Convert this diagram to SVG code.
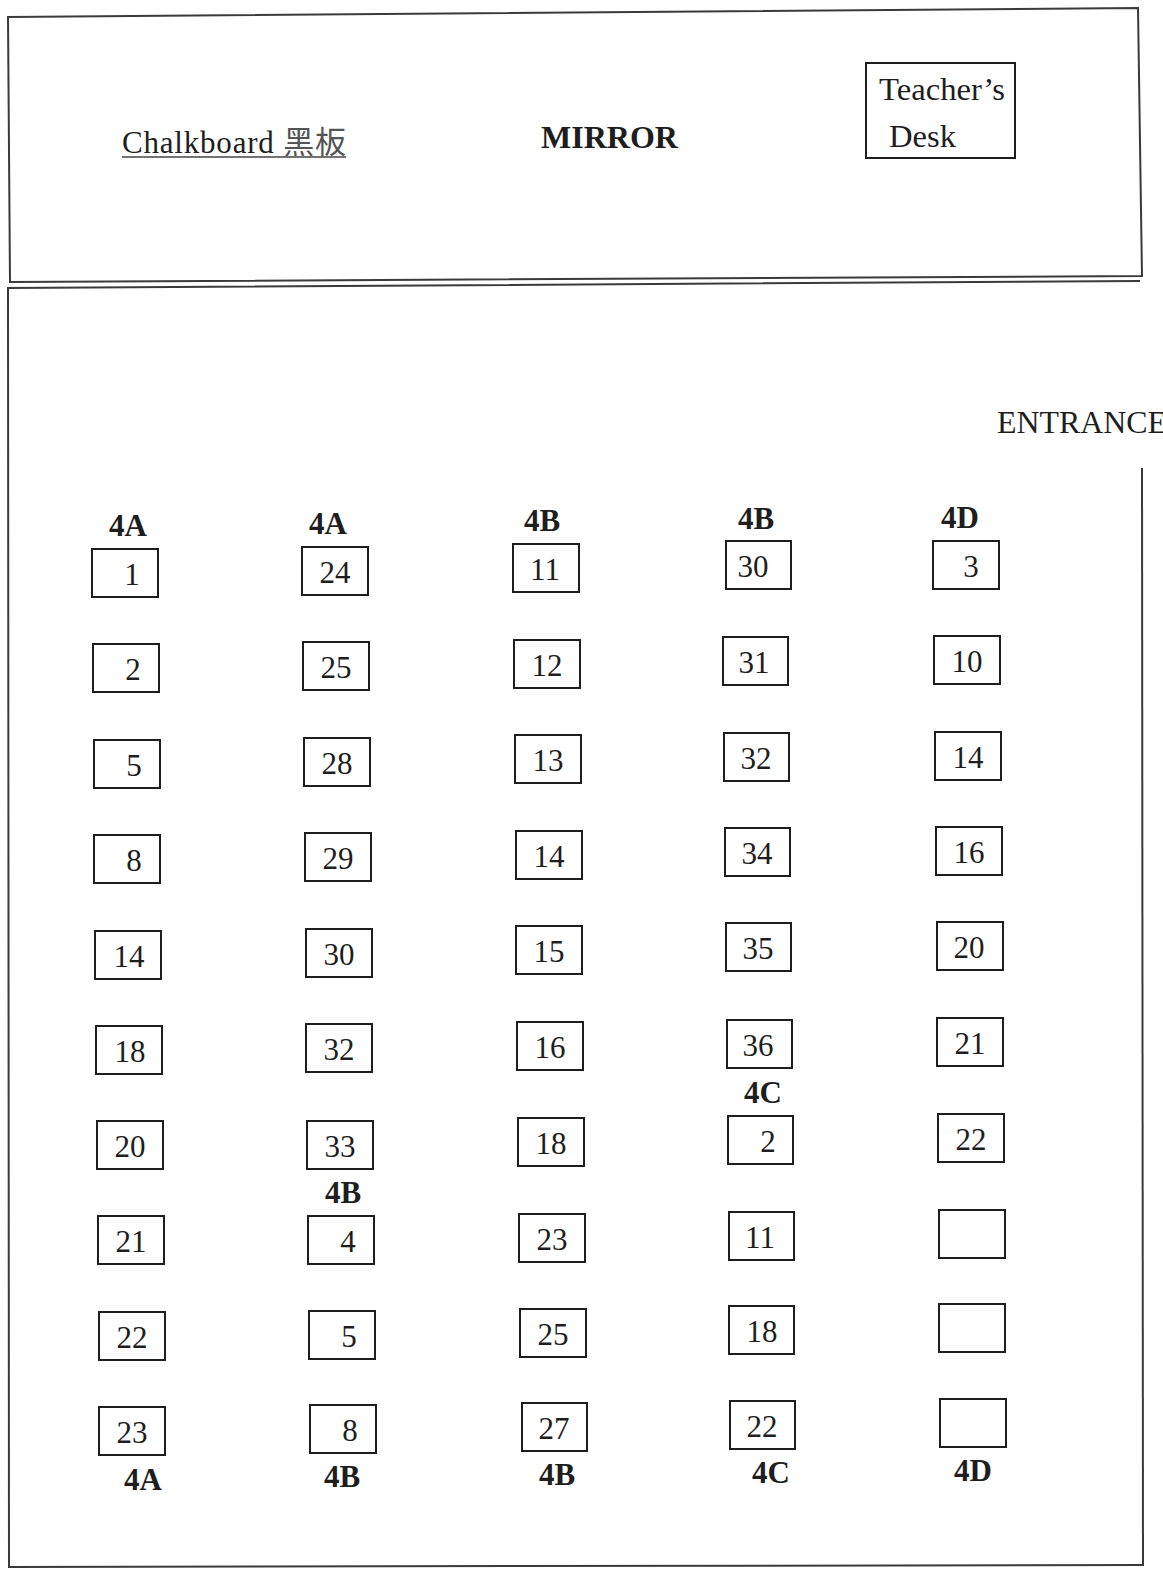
<svg xmlns="http://www.w3.org/2000/svg" width="1163" height="1571" viewBox="0 0 1163 1571" font-family="'Liberation Serif', 'Times New Roman', Times, serif">
<style>
  .wall{fill:none;stroke:#3a3a3a;stroke-width:2}
  .seat{fill:#fff;stroke:#1e1e1e;stroke-width:2}
  .num{font-family:'Liberation Serif', Times, serif;font-size:31px;fill:#1e1e1e;text-anchor:middle}
  .lbl{font-family:'Liberation Serif', Times, serif;font-size:31px;font-weight:bold;fill:#1e1e1e;text-anchor:middle}
  .txt{font-family:'Liberation Serif', Times, serif;font-size:31px;fill:#1e1e1e}
</style>
<rect width="1163" height="1571" fill="#fff"/>
<g id="front-area">
  <polygon class="wall" points="8,17 1138,8 1142,276 10,282"/>
  <text class="txt" x="122" y="153" textLength="224" lengthAdjust="spacing">Chalkboard <tspan font-family="'Noto Sans CJK TC', 'Noto Sans CJK SC', sans-serif" font-size="31" fill="#555">黑板</tspan></text>
  <line x1="122" y1="157" x2="346" y2="157" stroke="#444" stroke-width="1.5"/>
  <text class="txt" x="541" y="148" font-weight="bold" font-size="32" textLength="137" lengthAdjust="spacingAndGlyphs">MIRROR</text>
</g>
<g id="teachers-desk">
  <rect class="seat" x="866" y="63" width="149" height="95"/>
  <text class="txt" x="879" y="100" font-size="32" textLength="126" lengthAdjust="spacingAndGlyphs">Teacher’s</text>
  <text class="txt" x="889" y="147" font-size="32" textLength="67" lengthAdjust="spacingAndGlyphs">Desk</text>
</g>
<g id="room">
  <polyline class="wall" points="1140,281 8,288 9,1568"/>
  <line class="wall" x1="1142" y1="468" x2="1143" y2="1566"/>
  <line class="wall" x1="9" y1="1567" x2="1143" y2="1565"/>
  <text class="txt" x="997" y="433" textLength="170" lengthAdjust="spacingAndGlyphs">ENTRANCE</text>
</g>
<g id="labels">
  <text class="lbl" x="128" y="536">4A</text>
  <text class="lbl" x="328" y="534">4A</text>
  <text class="lbl" x="542" y="531">4B</text>
  <text class="lbl" x="756" y="529">4B</text>
  <text class="lbl" x="960" y="528">4D</text>
  <text class="lbl" x="343" y="1203">4B</text>
  <text class="lbl" x="763" y="1103">4C</text>
  <text class="lbl" x="143" y="1490">4A</text>
  <text class="lbl" x="342" y="1487">4B</text>
  <text class="lbl" x="557" y="1485">4B</text>
  <text class="lbl" x="771" y="1483">4C</text>
  <text class="lbl" x="973" y="1481">4D</text>
</g>
<g id="col1">
  <g id="s1-1"><rect class="seat" x="92" y="549" width="66" height="48"/><text class="num" x="132" y="585">1</text></g>
  <g id="s1-2"><rect class="seat" x="93" y="644" width="66" height="48"/><text class="num" x="133" y="680">2</text></g>
  <g id="s1-3"><rect class="seat" x="94" y="740" width="66" height="48"/><text class="num" x="134" y="776">5</text></g>
  <g id="s1-4"><rect class="seat" x="94" y="835" width="66" height="48"/><text class="num" x="134" y="871">8</text></g>
  <g id="s1-5"><rect class="seat" x="95" y="931" width="66" height="48"/><text class="num" x="129" y="967">14</text></g>
  <g id="s1-6"><rect class="seat" x="96" y="1026" width="66" height="48"/><text class="num" x="130" y="1062">18</text></g>
  <g id="s1-7"><rect class="seat" x="97" y="1121" width="66" height="48"/><text class="num" x="130" y="1157">20</text></g>
  <g id="s1-8"><rect class="seat" x="98" y="1216" width="66" height="48"/><text class="num" x="131" y="1252">21</text></g>
  <g id="s1-9"><rect class="seat" x="99" y="1312" width="66" height="48"/><text class="num" x="132" y="1348">22</text></g>
  <g id="s1-10"><rect class="seat" x="99" y="1407" width="66" height="48"/><text class="num" x="132" y="1443">23</text></g>
</g>
<g id="col2">
  <g id="s2-1"><rect class="seat" x="302" y="547" width="66" height="48"/><text class="num" x="335" y="583">24</text></g>
  <g id="s2-2"><rect class="seat" x="303" y="642" width="66" height="48"/><text class="num" x="336" y="678">25</text></g>
  <g id="s2-3"><rect class="seat" x="304" y="738" width="66" height="48"/><text class="num" x="337" y="774">28</text></g>
  <g id="s2-4"><rect class="seat" x="305" y="833" width="66" height="48"/><text class="num" x="338" y="869">29</text></g>
  <g id="s2-5"><rect class="seat" x="306" y="929" width="66" height="48"/><text class="num" x="339" y="965">30</text></g>
  <g id="s2-6"><rect class="seat" x="306" y="1024" width="66" height="48"/><text class="num" x="339" y="1060">32</text></g>
  <g id="s2-7"><rect class="seat" x="307" y="1121" width="66" height="48"/><text class="num" x="340" y="1157">33</text></g>
  <g id="s2-8"><rect class="seat" x="308" y="1216" width="66" height="48"/><text class="num" x="348" y="1252">4</text></g>
  <g id="s2-9"><rect class="seat" x="309" y="1311" width="66" height="48"/><text class="num" x="349" y="1347">5</text></g>
  <g id="s2-10"><rect class="seat" x="310" y="1405" width="66" height="48"/><text class="num" x="350" y="1441">8</text></g>
</g>
<g id="col3">
  <g id="s3-1"><rect class="seat" x="513" y="544" width="66" height="48"/><text class="num" x="545" y="580">11</text></g>
  <g id="s3-2"><rect class="seat" x="514" y="640" width="66" height="48"/><text class="num" x="547" y="676">12</text></g>
  <g id="s3-3"><rect class="seat" x="515" y="735" width="66" height="48"/><text class="num" x="548" y="771">13</text></g>
  <g id="s3-4"><rect class="seat" x="516" y="831" width="66" height="48"/><text class="num" x="549" y="867">14</text></g>
  <g id="s3-5"><rect class="seat" x="516" y="926" width="66" height="48"/><text class="num" x="549" y="962">15</text></g>
  <g id="s3-6"><rect class="seat" x="517" y="1022" width="66" height="48"/><text class="num" x="550" y="1058">16</text></g>
  <g id="s3-7"><rect class="seat" x="518" y="1118" width="66" height="48"/><text class="num" x="551" y="1154">18</text></g>
  <g id="s3-8"><rect class="seat" x="519" y="1214" width="66" height="48"/><text class="num" x="552" y="1250">23</text></g>
  <g id="s3-9"><rect class="seat" x="520" y="1309" width="66" height="48"/><text class="num" x="553" y="1345">25</text></g>
  <g id="s3-10"><rect class="seat" x="522" y="1403" width="65" height="48"/><text class="num" x="554" y="1439">27</text></g>
</g>
<g id="col4">
  <g id="s4-1"><rect class="seat" x="726" y="541" width="65" height="48"/><text class="num" x="753" y="577">30</text></g>
  <g id="s4-2"><rect class="seat" x="723" y="637" width="65" height="48"/><text class="num" x="754" y="673">31</text></g>
  <g id="s4-3"><rect class="seat" x="724" y="733" width="65" height="48"/><text class="num" x="756" y="769">32</text></g>
  <g id="s4-4"><rect class="seat" x="725" y="828" width="65" height="48"/><text class="num" x="757" y="864">34</text></g>
  <g id="s4-5"><rect class="seat" x="726" y="923" width="65" height="48"/><text class="num" x="758" y="959">35</text></g>
  <g id="s4-6"><rect class="seat" x="727" y="1020" width="65" height="48"/><text class="num" x="758" y="1056">36</text></g>
  <g id="s4-7"><rect class="seat" x="728" y="1116" width="65" height="48"/><text class="num" x="768" y="1152">2</text></g>
  <g id="s4-8"><rect class="seat" x="729" y="1212" width="65" height="48"/><text class="num" x="760" y="1248">11</text></g>
  <g id="s4-9"><rect class="seat" x="729" y="1306" width="65" height="48"/><text class="num" x="762" y="1342">18</text></g>
  <g id="s4-10"><rect class="seat" x="730" y="1401" width="65" height="48"/><text class="num" x="762" y="1437">22</text></g>
</g>
<g id="col5">
  <g id="s5-1"><rect class="seat" x="933" y="541" width="66" height="48"/><text class="num" x="971" y="577">3</text></g>
  <g id="s5-2"><rect class="seat" x="934" y="636" width="66" height="48"/><text class="num" x="967" y="672">10</text></g>
  <g id="s5-3"><rect class="seat" x="935" y="732" width="66" height="48"/><text class="num" x="968" y="768">14</text></g>
  <g id="s5-4"><rect class="seat" x="936" y="827" width="66" height="48"/><text class="num" x="969" y="863">16</text></g>
  <g id="s5-5"><rect class="seat" x="937" y="922" width="66" height="48"/><text class="num" x="969" y="958">20</text></g>
  <g id="s5-6"><rect class="seat" x="937" y="1018" width="66" height="48"/><text class="num" x="970" y="1054">21</text></g>
  <g id="s5-7"><rect class="seat" x="938" y="1114" width="66" height="48"/><text class="num" x="971" y="1150">22</text></g>
  <g id="s5-8"><rect class="seat" x="939" y="1210" width="66" height="48"/></g>
  <g id="s5-9"><rect class="seat" x="939" y="1304" width="66" height="48"/></g>
  <g id="s5-10"><rect class="seat" x="940" y="1399" width="66" height="48"/></g>
</g>
</svg>
